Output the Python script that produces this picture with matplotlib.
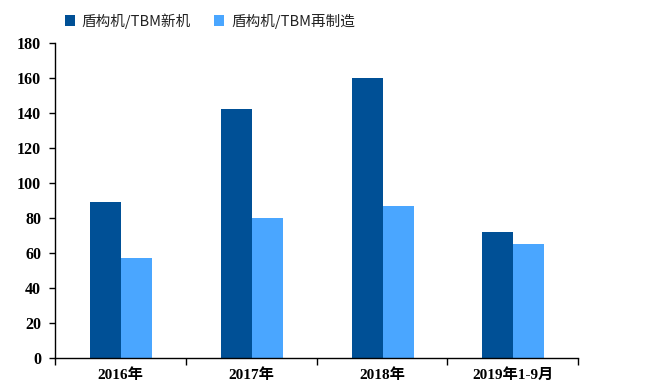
import matplotlib
matplotlib.use("Agg")
import matplotlib.pyplot as plt
import numpy as np

categories = ["2016年", "2017年", "2018年", "2019年1-9月"]
new_machines = [89, 142, 160, 72]
reman_machines = [57, 80, 87, 65]
series_names = ["盾构机/TBM新机", "盾构机/TBM再制造"]
yticks = [0, 20, 40, 60, 80, 100, 120, 140, 160, 180]

dark = "#005096"
light = "#4AA6FF"

fig = plt.figure(figsize=(6.46, 3.83), dpi=100)
ax = fig.add_axes([0.085, 0.065, 0.81, 0.823])

x = np.arange(len(categories))
w = 0.237
ax.bar(x - w/2 + 0.005, new_machines, w, color=dark, label=series_names[0])
ax.bar(x + w/2 + 0.005, reman_machines, w, color=light, label=series_names[1])

ax.set_xlim(-0.5, len(categories) - 0.5)
ax.set_ylim(0, 180)
ax.set_yticks(yticks)
ax.set_yticklabels([str(v) for v in yticks], fontfamily="Liberation Serif",
                   fontweight="bold", fontsize=11.5)
ax.set_xticks(x)
ax.set_xticklabels(categories, fontfamily=["Liberation Serif", "Noto Sans CJK SC"],
                   fontweight="bold", fontsize=11)
ax.tick_params(axis="x", length=0, pad=7)
ax.set_xticks(np.arange(len(categories) + 1) - 0.5, minor=True)
ax.tick_params(axis="x", which="minor", length=5, direction="out", width=1)
ax.tick_params(axis="y", length=4, direction="out", width=1, pad=6)

for s in ["top", "right"]:
    ax.spines[s].set_visible(False)
for s in ["left", "bottom"]:
    ax.spines[s].set_linewidth(1)
    ax.spines[s].set_color("black")

leg = fig.legend(loc="upper left", bbox_to_anchor=(0.08, 1.0), ncol=2, frameon=False,
                 prop={"family": ["Noto Sans CJK SC", "DejaVu Sans"], "size": 10.5},
                 handlelength=0.7, handleheight=0.7, handletextpad=0.45, columnspacing=1.6)
for t in leg.get_texts():
    t.set_color("#222222")

fig.savefig("out.png", dpi=100)
